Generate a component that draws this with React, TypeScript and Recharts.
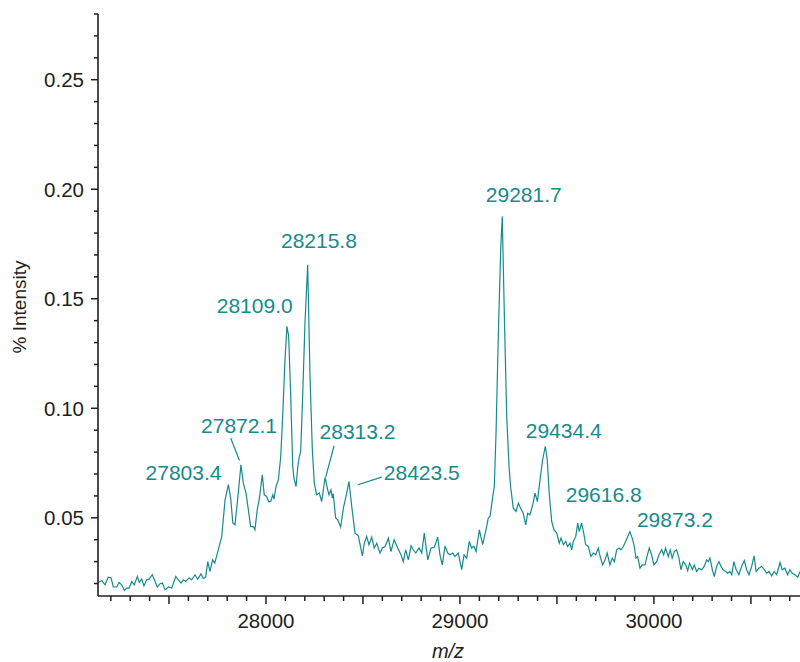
import { LineChart, Line, XAxis, YAxis, ReferenceDot, ReferenceLine } from "recharts";

// m/z values of the trace
const MZ = [
  27136, 27153, 27170, 27187, 27201, 27213, 27231, 27242, 27256, 27270,
  27282, 27294, 27308, 27321, 27337, 27347, 27359, 27371, 27385, 27397,
  27414, 27428, 27440, 27454, 27466, 27480, 27497, 27514, 27535, 27548,
  27562, 27574, 27586, 27603, 27617, 27634, 27648, 27665, 27677, 27689,
  27700, 27711,
  27725, 27736, 27754, 27772, 27789, 27806, 27818, 27829, 27840, 27852,
  27871, 27883, 27897, 27909, 27921, 27935, 27943, 27955, 27966, 27981,
  27991, 28004, 28014, 28024, 28035, 28041, 28052, 28064, 28076, 28086,
  28098, 28108, 28117, 28127, 28138, 28144, 28155, 28164, 28172, 28179,
  28189, 28201, 28215, 28227, 28239, 28249, 28261, 28275, 28287, 28305,
  28318, 28325, 28335, 28342, 28347, 28359, 28370, 28385, 28399, 28416,
  28428, 28442, 28459, 28476, 28497, 28507, 28519, 28531, 28545, 28558,
  28571, 28588, 28600, 28614, 28631, 28644, 28661, 28679, 28696, 28708,
  28720, 28734, 28748, 28759, 28772, 28789, 28803, 28816, 28834, 28851,
  28868, 28885, 28897, 28909, 28923, 28937, 28949,
  28962, 28974, 28991, 29009, 29021, 29035, 29048, 29060, 29072, 29083,
  29100, 29117, 29134, 29146, 29155, 29169, 29177, 29186, 29198, 29210,
  29218, 29229, 29241, 29253, 29261, 29275, 29289, 29301, 29313, 29326,
  29339, 29349, 29361, 29375, 29387, 29399, 29413, 29426, 29440, 29450,
  29460, 29473, 29485, 29499, 29512,
  29521, 29533, 29545, 29555, 29567, 29576, 29584, 29597, 29607, 29615,
  29627, 29638, 29648, 29662, 29675, 29687, 29700, 29713, 29725, 29736,
  29748, 29759, 29773, 29785, 29796, 29808, 29820, 29830, 29842, 29854,
  29865, 29876, 29888, 29899, 29907, 29916, 29928, 29940, 29954, 29964,
  29976, 29988, 30000, 30014, 30026, 30040, 30050, 30060, 30074, 30084,
  30094, 30105,
  30117, 30129, 30139, 30151, 30164, 30174, 30184, 30198, 30208, 30220,
  30232, 30246, 30259, 30272, 30280, 30289, 30301, 30311, 30323, 30335,
  30346, 30357, 30370, 30380, 30392, 30401, 30412, 30424, 30438, 30452,
  30466, 30478, 30490, 30504, 30516, 30527, 30541, 30555, 30569, 30581,
  30593, 30607, 30620, 30633, 30650, 30661, 30675, 30689, 30701, 30713,
  30727, 30741, 30753,
];

// % intensity at each m/z
const INTENSITY = [
  0.0205, 0.0214, 0.0194, 0.0229, 0.0226, 0.0184, 0.0184, 0.0205, 0.0194, 0.0168,
  0.0179, 0.0179, 0.0209, 0.0194, 0.0232, 0.0205, 0.022, 0.0189, 0.0217, 0.022,
  0.024, 0.0209, 0.0184, 0.0199, 0.0202, 0.0171, 0.0184, 0.0179, 0.0232, 0.0217,
  0.0202, 0.0217, 0.0209, 0.0225, 0.0217, 0.024, 0.022, 0.0244, 0.0223, 0.0229,
  0.03, 0.0255,
  0.0308, 0.0293, 0.0354, 0.0415, 0.0582, 0.0651, 0.059, 0.0476, 0.0468, 0.0567,
  0.0742, 0.0658, 0.0613, 0.0537, 0.046, 0.046, 0.0445, 0.0537, 0.059, 0.0696,
  0.0605, 0.0597, 0.0574, 0.0574, 0.0605, 0.0585, 0.0643, 0.0674, 0.078, 0.0963,
  0.1221, 0.1374, 0.1328, 0.1069, 0.0734, 0.0681, 0.0643, 0.0734, 0.078, 0.0803,
  0.1054, 0.1389, 0.1655, 0.1145, 0.081, 0.0658, 0.0605, 0.0613, 0.0574, 0.0685,
  0.0628, 0.0605, 0.0628, 0.059, 0.061, 0.0499, 0.0491, 0.0458, 0.0544, 0.0613,
  0.0666, 0.0552, 0.043, 0.0418, 0.0326, 0.0384, 0.0415, 0.0377, 0.0412, 0.0362,
  0.0384, 0.0339, 0.0362, 0.0369, 0.0407, 0.0346, 0.04, 0.0362, 0.0331, 0.03,
  0.0354, 0.0308, 0.0372, 0.0354, 0.0339, 0.0362, 0.0339, 0.043, 0.0308, 0.0362,
  0.0366, 0.0412, 0.0331, 0.0285, 0.0372, 0.0339, 0.0331,
  0.0339, 0.0323, 0.0339, 0.0263, 0.0331, 0.0316, 0.0392, 0.0362, 0.0369, 0.0346,
  0.0445, 0.0377, 0.0445, 0.0499, 0.0506, 0.0597, 0.0643, 0.0887, 0.1343, 0.1724,
  0.1876, 0.1419, 0.0963, 0.0734, 0.0643, 0.0544, 0.0529, 0.0567, 0.0544, 0.0521,
  0.0468, 0.0521, 0.0514, 0.0559, 0.0613, 0.0574, 0.0674, 0.0765, 0.0826, 0.0765,
  0.0613, 0.0483, 0.0445, 0.043, 0.0384,
  0.0407, 0.0377, 0.0392, 0.0369, 0.0384, 0.0354, 0.0392, 0.0415, 0.0476, 0.0437,
  0.0476, 0.043, 0.0377, 0.0369, 0.0323, 0.0339, 0.0331, 0.0362, 0.0316, 0.0285,
  0.0308, 0.0339, 0.0285, 0.0316, 0.03, 0.0354, 0.0362, 0.0354, 0.0369, 0.0392,
  0.0415, 0.0437, 0.0407, 0.0369, 0.0316, 0.0323, 0.027, 0.0285, 0.0285, 0.0323,
  0.0362, 0.0331, 0.0285, 0.03, 0.0331, 0.0354, 0.0331, 0.0362, 0.0323, 0.0354,
  0.0316, 0.0346,
  0.0354, 0.0316, 0.0263, 0.03, 0.0285, 0.0259, 0.0293, 0.0263, 0.0285, 0.0255,
  0.027, 0.0263, 0.0278, 0.0308, 0.03, 0.0316, 0.0263, 0.0232, 0.0278, 0.03,
  0.0278, 0.0263, 0.0255, 0.0247, 0.0255, 0.024, 0.03, 0.0263, 0.024, 0.0278,
  0.0305, 0.0263, 0.024, 0.0278, 0.0326, 0.0255, 0.027, 0.0278, 0.0263, 0.0247,
  0.0255, 0.0235, 0.0255, 0.024, 0.0296, 0.0263, 0.027, 0.024, 0.0263, 0.0247,
  0.024, 0.0229, 0.0255,
];

const X_TICKS = [
  27200, 27300, 27400, 27500, 27600, 27700, 27800, 27900, 28000, 28100,
  28200, 28300, 28400, 28500, 28600, 28700, 28800, 28900, 29000, 29100,
  29200, 29300, 29400, 29500, 29600, 29700, 29800, 29900, 30000, 30100,
  30200, 30300, 30400, 30500, 30600, 30700,
];
const X_LABELS = [28000, 29000, 30000];

const Y_TICKS = [
  0.02, 0.03, 0.04, 0.05, 0.06, 0.07, 0.08, 0.09, 0.1, 0.11, 0.12, 0.13, 0.14,
  0.15, 0.16, 0.17, 0.18, 0.19, 0.2, 0.21, 0.22, 0.23, 0.24, 0.25, 0.26, 0.27, 0.28,
];
const Y_LABELS = [0.05, 0.1, 0.15, 0.2, 0.25];

const PEAK_NAMES = [
  "27803.4", "27872.1", "28109.0", "28215.8", "28313.2",
  "28423.5", "29281.7", "29434.4", "29616.8", "29873.2",
];

// where each peak label sits (baseline centre, in chart units)
const LABEL_AT = [
  { mz: 27575, y: 0.0674 },
  { mz: 27861, y: 0.0888 },
  { mz: 27942, y: 0.1435 },
  { mz: 28273, y: 0.1733 },
  { mz: 28472, y: 0.0858 },
  { mz: 28803, y: 0.0674 },
  { mz: 29329, y: 0.1942 },
  { mz: 29535, y: 0.0863 },
  { mz: 29741, y: 0.057 },
  { mz: 30108, y: 0.0458 },
];

const LEADERS = [
  [{ x: 27818, y: 0.0864 }, { x: 27863, y: 0.0762 }],
  [{ x: 28351, y: 0.0829 }, { x: 28308, y: 0.0686 }],
  [{ x: 28597, y: 0.0686 }, { x: 28473, y: 0.0651 }],
];

const TEAL = "#168a8d";
const INK = "#231f20";
const FONT = "'Liberation Sans', Arial, Helvetica, sans-serif";

const data = MZ.map((mz, i) => ({ mz, v: INTENSITY[i] }));

const isIn = (list: number[], v: number) => list.some((t) => Math.abs(t - v) < 1e-9);

function YTick(props: any) {
  const { x, y, payload } = props;
  const v = payload.value;
  const major = isIn(Y_LABELS, v);
  return (
    <g>
      <line x1={x - (major ? 7 : 4)} x2={x} y1={y} y2={y} stroke={INK} strokeWidth={1.5} />
      {major && (
        <text x={x - 14} y={y} dy="0.36em" textAnchor="end" fontSize={20.5} fill={INK} fontFamily={FONT}>
          {v.toFixed(2)}
        </text>
      )}
    </g>
  );
}

function XTick(props: any) {
  const { x, y, payload } = props;
  const v = payload.value;
  const major = v % 500 === 0;
  return (
    <g>
      <line x1={x} x2={x} y1={y} y2={y + (major ? 8 : 5)} stroke={INK} strokeWidth={1.5} />
      {isIn(X_LABELS, v) && (
        <text x={x} y={y + 32} textAnchor="middle" fontSize={20.5} fill={INK} fontFamily={FONT}>
          {v}
        </text>
      )}
    </g>
  );
}

export default function App() {
  return (
    <div style={{ position: "absolute", left: 0, top: 0, width: 800, height: 662, background: "#fff" }}>
      <LineChart width={800} height={662} data={data} margin={{ top: 14, right: 0, bottom: 0, left: 0 }}>
        <XAxis
          dataKey="mz"
          type="number"
          domain={[27134, 30753]}
          ticks={X_TICKS}
          interval={0}
          tick={<XTick />}
          tickLine={false}
          tickSize={0}
          tickMargin={0}
          height={66}
          axisLine={{ stroke: INK, strokeWidth: 1.6 }}
          allowDataOverflow
        />
        <YAxis
          type="number"
          domain={[0.0143, 0.28]}
          ticks={Y_TICKS}
          interval={0}
          tick={<YTick />}
          tickLine={false}
          tickSize={0}
          tickMargin={0}
          width={98}
          axisLine={{ stroke: INK, strokeWidth: 1.6 }}
          allowDataOverflow
        />
        <Line
          dataKey="v"
          type="linear"
          stroke={TEAL}
          strokeWidth={1.2}
          dot={false}
          isAnimationActive={false}
        />
        {LEADERS.map((seg, i) => (
          <ReferenceLine key={"l" + i} segment={seg} stroke={TEAL} strokeWidth={1.2} />
        ))}
        {PEAK_NAMES.map((name, i) => (
          <ReferenceDot
            key={name}
            x={LABEL_AT[i].mz}
            y={LABEL_AT[i].y}
            r={0}
            shape={(p: any) => (
              <text x={p.cx} y={p.cy} textAnchor="middle" fontSize={21} fill={TEAL} fontFamily={FONT}>
                {name}
              </text>
            )}
          />
        ))}
      </LineChart>
      <svg width={800} height={662} style={{ position: "absolute", left: 0, top: 0, pointerEvents: "none" }}>
        <text
          x={19}
          y={307}
          transform="rotate(-90, 19, 307)"
          textAnchor="middle"
          dy="0.36em"
          fontSize={19}
          fill={INK}
          fontFamily={FONT}
        >
          % Intensity
        </text>
        <text x={448} y={658} textAnchor="middle" fontSize={20} fontStyle="italic" fill={INK} fontFamily={FONT}>
          m/z
        </text>
      </svg>
    </div>
  );
}
